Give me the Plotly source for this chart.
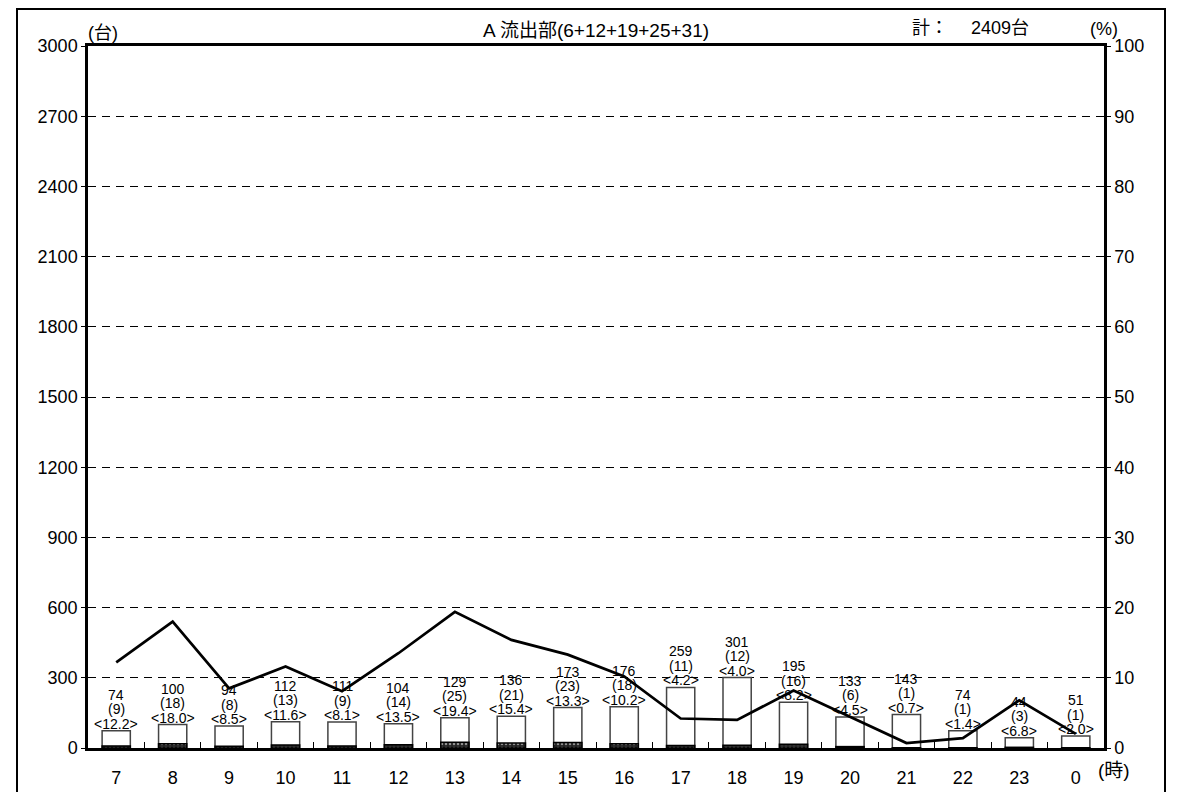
import plotly.graph_objects as go

hours = ["7", "8", "9", "10", "11", "12", "13", "14", "15", "16", "17", "18", "19", "20", "21", "22", "23", "0"]
total = [74, 100, 94, 112, 111, 104, 129, 136, 173, 176, 259, 301, 195, 133, 143, 74, 44, 51]
heavy = [9, 18, 8, 13, 9, 14, 25, 21, 23, 18, 11, 12, 16, 6, 1, 1, 3, 1]
ratio = [12.2, 18.0, 8.5, 11.6, 8.1, 13.5, 19.4, 15.4, 13.3, 10.2, 4.2, 4.0, 8.2, 4.5, 0.7, 1.4, 6.8, 2.0]
left_ticks = [0, 300, 600, 900, 1200, 1500, 1800, 2100, 2400, 2700, 3000]
right_ticks = [0, 10, 20, 30, 40, 50, 60, 70, 80, 90, 100]
title_text = "A 流出部(6+12+19+25+31)"
sum_text = "計：　 2409台"

FONT = "Liberation Sans, Arial, Noto Sans CJK JP"

# page body has an 8px margin: figure is offset by (8, 8) in the window
W, H = 1165, 784
ML, MT = 80, 38
PW, PH = 1016, 702
MR = W - ML - PW
MB = H - MT - PH

fig = go.Figure()
fig.add_trace(go.Bar(
    x=hours, y=total, width=0.5,
    marker=dict(color="white", line=dict(color="#444", width=1.5)),
    showlegend=False, hoverinfo="skip"))
fig.add_trace(go.Bar(
    x=hours, y=heavy, width=0.5,
    marker=dict(color="black", line=dict(color="black", width=1.5),
                pattern=dict(shape=".", fgcolor="white", bgcolor="#222", size=4, solidity=0.3)),
    showlegend=False, hoverinfo="skip"))
fig.add_trace(go.Scatter(
    x=hours, y=ratio, yaxis="y2", mode="lines",
    line=dict(color="black", width=2.7), showlegend=False, hoverinfo="skip"))

annotations = []
for i, (t, hv, r) in enumerate(zip(total, heavy, ratio)):
    lines = [f"<{r:.1f}>", f"({hv})", f"{t}"]
    for k, s in enumerate(lines):
        annotations.append(dict(
            x=i, y=t, xref="x", yref="y", text=s, showarrow=False,
            yanchor="middle", yshift=7 + k * 14.5,
            font=dict(family=FONT, size=14, color="black")))

annotations += [
    dict(x=0.5, y=1.0, xref="paper", yref="paper", text=title_text, showarrow=False,
         xanchor="center", yanchor="bottom", yshift=3,
         font=dict(family=FONT, size=19, color="black")),
    dict(x=(962 - ML) / PW, y=1.0, xref="paper", yref="paper", text=sum_text, showarrow=False,
         xanchor="center", yanchor="bottom", yshift=6,
         font=dict(family=FONT, size=18, color="black")),
    dict(x=0.0, y=1.0, xref="paper", yref="paper", text="(台)", showarrow=False,
         xanchor="left", yanchor="bottom", xshift=-2, yshift=1,
         font=dict(family=FONT, size=18, color="black")),
    dict(x=1.0, y=1.0, xref="paper", yref="paper", text="(%)", showarrow=False,
         xanchor="right", yanchor="bottom", xshift=16, yshift=5,
         font=dict(family=FONT, size=18, color="black")),
    dict(x=1.0, y=0.0, xref="paper", yref="paper", text="(時)", showarrow=False,
         xanchor="left", yanchor="middle", xshift=-8, yshift=-22,
         font=dict(family=FONT, size=19, color="black")),
]

fig.update_layout(
    width=W, height=H,
    margin=dict(l=ML, r=MR, t=MT, b=MB, pad=0, autoexpand=False),
    paper_bgcolor="white", plot_bgcolor="white",
    barmode="overlay", bargap=0.5,
    font=dict(family=FONT, size=18, color="black"),
    xaxis=dict(type="category", showline=True, linecolor="black", linewidth=2.5, mirror=True,
               ticks="inside", tickson="boundaries", ticklen=6, tickwidth=1, tickcolor="black",
               showgrid=False, tickfont=dict(size=18), ticklabelstandoff=12,
               range=[-0.5, 17.5], automargin=False),
    yaxis=dict(range=[0, 3000], tickvals=left_ticks, showline=True, linecolor="black", linewidth=2.5,
               ticks="outside", ticklen=4, tickwidth=1, tickcolor="black",
               showgrid=True, gridcolor="black", gridwidth=1, griddash="8px,6px",
               zeroline=False, tickfont=dict(size=18), automargin=False),
    yaxis2=dict(range=[0, 100], tickvals=right_ticks, overlaying="y", side="right",
                showline=True, linecolor="black", linewidth=2.5,
                ticks="outside", ticklen=4, tickwidth=1, tickcolor="black",
                showgrid=False, zeroline=False, tickfont=dict(size=18), automargin=False),
    annotations=annotations,
    shapes=[dict(type="rect", xref="paper", yref="paper",
                 x0=(9 - ML) / PW, x1=(1157 - ML) / PW,
                 y0=-0.2, y1=(MT + PH - 1) / PH,
                 line=dict(color="black", width=2), fillcolor="rgba(0,0,0,0)", layer="above")],
)

fig.write_html("out.html")
